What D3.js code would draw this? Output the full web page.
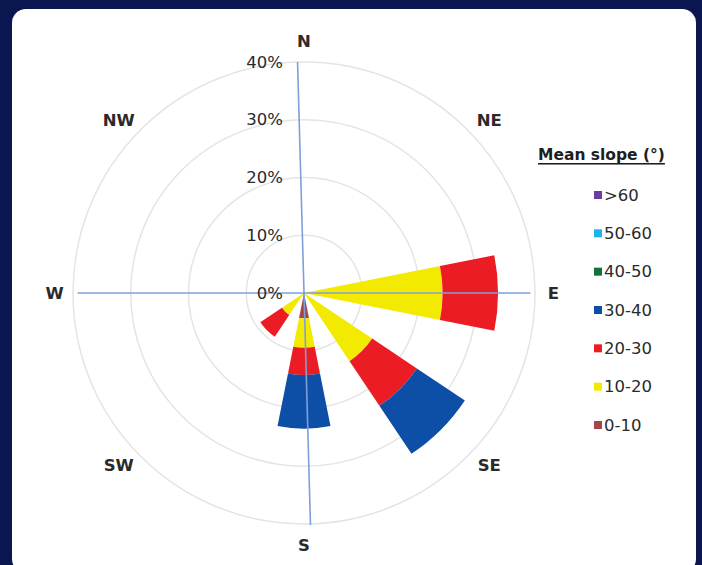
<!DOCTYPE html>
<html>
<head>
<meta charset="utf-8">
<script src="https://cdn.jsdelivr.net/npm/d3@7"></script>
<style>
  html, body { margin: 0; padding: 0; background: #0a1650; }
  svg { display: block; }
  text { font-family: "DejaVu Sans", "Liberation Sans", Arial, sans-serif; }
</style>
</head>
<body>
<svg id="chart" width="702" height="565"></svg>
<script>
// ---- data ----
const directions = ["N","NNE","NE","ENE","E","ESE","SE","SSE","S","SSW","SW","WSW","W","WNW","NW","NNW"];
const dirLabels = ["N","NE","E","SE","S","SW","W","NW"];
const classes = ["0-10","10-20","20-30","30-40","40-50","50-60",">60"];
const classColors = ["#a5454a","#f2ea00","#ec1c24","#0d4ea6","#16703c","#1cb2ea","#6a3da0"];
// percent of cells per direction, one array per slope class (16 directions)
const slope0_10  = [0,0,0,0,0,   0,0,   0,4.4,0,0,  0,0,0,0,0];
const slope10_20 = [0,0,0,0,24.0,0,14.2,0,5.1,0,4.6,0,0,0,0,0];
const slope20_30 = [0,0,0,0,9.6, 0,9.3, 0,4.7,0,4.5,0,0,0,0,0];
const slope30_40 = [0,0,0,0,0,   0,10.0,0,9.3,0,0,  0,0,0,0,0];
const slope40_50 = [0,0,0,0,0,0,0,0,0,0,0,0,0,0,0,0];
const slope50_60 = [0,0,0,0,0,0,0,0,0,0,0,0,0,0,0,0];
const slopeOver60 = [0,0,0,0,0,0,0,0,0,0,0,0,0,0,0,0];
const tickValues = [0,10,20,30,40];
const legendTitle = "Mean slope (°)";

// ---- layout ----
const svg = d3.select("#chart");
const cx = 304, cy = 293, R = 231;
const nsTilt = 1.6; // degrees, slight tilt of the N-S line in the original

svg.append("rect").attr("x", 0).attr("y", 0).attr("width", 702).attr("height", 565).attr("fill", "#0a1650");
svg.append("rect").attr("x", 12).attr("y", 9).attr("width", 684).attr("height", 564)
  .attr("rx", 14).attr("fill", "#ffffff");

const r = d3.scaleLinear().domain([0, 40]).range([0, R]);
const step = 2 * Math.PI / directions.length;
const g = svg.append("g").attr("transform", `translate(${cx},${cy})`);

// grid rings
g.selectAll("circle.ring").data(tickValues.filter(d => d > 0)).join("circle")
  .attr("class", "ring").attr("r", d => r(d))
  .attr("fill", "none").attr("stroke", "#e4e4e4").attr("stroke-width", 1.5);

// stacked data
const seriesArrays = [slope0_10, slope10_20, slope20_30, slope30_40, slope40_50, slope50_60, slopeOver60];
const table = directions.map((d, i) => {
  const row = { dir: d, idx: i };
  classes.forEach((c, k) => row[c] = seriesArrays[k][i]);
  return row;
});
const stacked = d3.stack().keys(classes)(table);

const arc = d3.arc()
  .innerRadius(d => r(d[0]))
  .outerRadius(d => r(d[1]))
  .startAngle(d => d.data.idx * step - step / 2)
  .endAngle(d => d.data.idx * step + step / 2)
  .padAngle(0);

g.selectAll("g.layer").data(stacked).join("g")
  .attr("class", "layer")
  .attr("fill", (d, k) => classColors[k])
  .selectAll("path").data(d => d.filter(p => p[1] - p[0] > 0)).join("path")
  .attr("d", arc);

// axis lines
g.append("line").attr("x1", -r(39.2)).attr("x2", r(39.2)).attr("y1", 0).attr("y2", 0)
  .attr("stroke", "#7f9fd8").attr("stroke-width", 1.6);
g.append("line").attr("x1", 0).attr("x2", 0).attr("y1", -r(40)).attr("y2", r(40.2))
  .attr("transform", `rotate(${-nsTilt})`)
  .attr("stroke", "#7f9fd8").attr("stroke-width", 1.6);

// tick labels
g.selectAll("text.tick").data(tickValues).join("text")
  .attr("class", "tick")
  .attr("x", -21).attr("y", d => -r(d))
  .attr("text-anchor", "end").attr("dominant-baseline", "central")
  .attr("font-size", 16.5).attr("fill", "#2a2a2a")
  .text(d => d + "%");

// direction labels
const labelR = 252;
g.selectAll("text.dir").data(dirLabels).join("text")
  .attr("class", "dir")
  .attr("x", (d, i) => {
    const a = i * Math.PI / 4;
    const k = (i % 2 === 1) ? 1.04 : 0.99;
    return Math.sin(a) * labelR * k;
  })
  .attr("y", (d, i) => {
    const a = i * Math.PI / 4;
    const k = (i % 2 === 1) ? 0.97 : 1.0;
    return -Math.cos(a) * labelR * k;
  })
  .attr("text-anchor", "middle").attr("dominant-baseline", "central")
  .attr("font-size", 16.5).attr("font-weight", "bold").attr("fill", "#2a2a2a")
  .text(d => d);

// legend
const lg = svg.append("g");
lg.append("text").attr("x", 538).attr("y", 155)
  .attr("dominant-baseline", "central")
  .attr("font-size", 15.5).attr("font-weight", "bold").attr("fill", "#1e1e1e")
  .attr("text-decoration", "underline")
  .text(legendTitle);

const legendOrder = classes.map((c, k) => ({ name: c, color: classColors[k] })).reverse();
const ly = d3.scalePoint().domain(legendOrder.map(d => d.name)).range([195, 425]);
const items = lg.selectAll("g.item").data(legendOrder).join("g")
  .attr("class", "item")
  .attr("transform", d => `translate(594,${ly(d.name)})`);
items.append("rect").attr("x", 0).attr("y", -4).attr("width", 8).attr("height", 8)
  .attr("fill", d => d.color);
items.append("text").attr("x", 10).attr("y", 0)
  .attr("dominant-baseline", "central")
  .attr("font-size", 16.5).attr("fill", "#2a2a2a")
  .text(d => d.name);
</script>
</body>
</html>
